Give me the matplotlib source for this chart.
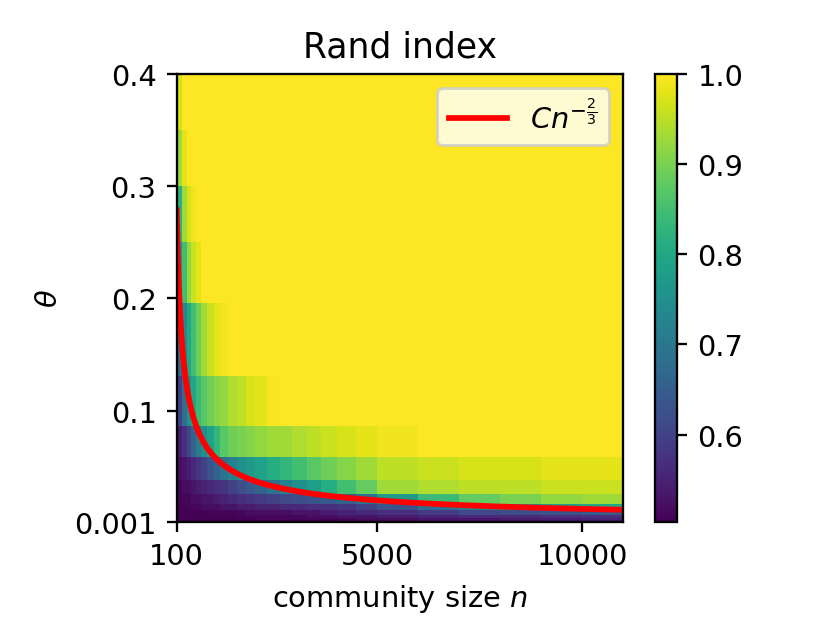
import numpy as np
import matplotlib
matplotlib.use("Agg")
import matplotlib.pyplot as plt

# community sizes n (cell edges along x)
n_edges = [100, 240, 345, 450, 565, 695, 830, 1000, 1160, 1345, 1565, 1785, 2000,
           2300, 2620, 2915, 3280, 3620, 4000, 4475, 5000, 6000, 7000, 8000, 9000,
           10000, 11000]

# theta values (cell edges along y)
theta_edges = [0.001, 0.0015, 0.0023, 0.0034, 0.0052, 0.0078, 0.0117, 0.0176, 0.026,
               0.039, 0.059, 0.087, 0.131, 0.196, 0.25, 0.3, 0.35, 0.4]

# rand index, one row per theta cell (bottom to top), one value per n cell
rand_rows = [
    [0.50, 0.50, 0.50, 0.50, 0.50, 0.50, 0.50, 0.50, 0.50, 0.50, 0.50, 0.50, 0.50, 0.50, 0.50, 0.50, 0.50, 0.50, 0.50, 0.50, 0.50, 0.51, 0.51, 0.51, 0.51, 0.51],
    [0.50, 0.50, 0.50, 0.50, 0.50, 0.50, 0.50, 0.50, 0.50, 0.50, 0.50, 0.50, 0.50, 0.50, 0.50, 0.50, 0.50, 0.50, 0.50, 0.50, 0.51, 0.51, 0.51, 0.52, 0.52, 0.52],
    [0.50, 0.50, 0.50, 0.50, 0.50, 0.50, 0.50, 0.50, 0.50, 0.50, 0.50, 0.50, 0.50, 0.50, 0.50, 0.50, 0.50, 0.50, 0.51, 0.51, 0.51, 0.52, 0.52, 0.52, 0.53, 0.53],
    [0.50, 0.50, 0.50, 0.50, 0.50, 0.50, 0.50, 0.50, 0.50, 0.50, 0.50, 0.50, 0.51, 0.51, 0.51, 0.51, 0.51, 0.51, 0.51, 0.52, 0.52, 0.53, 0.53, 0.54, 0.54, 0.55],
    [0.50, 0.50, 0.50, 0.50, 0.50, 0.50, 0.50, 0.50, 0.50, 0.50, 0.51, 0.51, 0.51, 0.51, 0.51, 0.51, 0.52, 0.52, 0.53, 0.53, 0.54, 0.55, 0.56, 0.56, 0.57, 0.57],
    [0.50, 0.50, 0.50, 0.50, 0.50, 0.50, 0.51, 0.51, 0.51, 0.51, 0.51, 0.52, 0.52, 0.52, 0.52, 0.53, 0.53, 0.54, 0.55, 0.56, 0.57, 0.59, 0.61, 0.62, 0.63, 0.64],
    [0.50, 0.50, 0.51, 0.51, 0.51, 0.52, 0.52, 0.52, 0.53, 0.53, 0.54, 0.54, 0.55, 0.55, 0.56, 0.56, 0.57, 0.57, 0.58, 0.60, 0.63, 0.68, 0.72, 0.75, 0.78, 0.80],
    [0.51, 0.51, 0.51, 0.52, 0.52, 0.53, 0.53, 0.54, 0.55, 0.56, 0.57, 0.58, 0.59, 0.60, 0.61, 0.62, 0.63, 0.64, 0.66, 0.69, 0.77, 0.84, 0.88, 0.90, 0.92, 0.93],
    [0.51, 0.52, 0.52, 0.53, 0.54, 0.55, 0.56, 0.57, 0.58, 0.60, 0.62, 0.64, 0.66, 0.69, 0.72, 0.75, 0.78, 0.81, 0.85, 0.88, 0.93, 0.94, 0.95, 0.95, 0.96, 0.96],
    [0.52, 0.53, 0.54, 0.56, 0.58, 0.60, 0.63, 0.66, 0.69, 0.72, 0.75, 0.77, 0.79, 0.81, 0.83, 0.85, 0.87, 0.89, 0.91, 0.93, 0.95, 0.96, 0.97, 0.97, 0.98, 0.98],
    [0.54, 0.57, 0.61, 0.66, 0.71, 0.75, 0.79, 0.83, 0.87, 0.89, 0.90, 0.91, 0.92, 0.93, 0.93, 0.94, 0.95, 0.96, 0.97, 0.98, 0.99, 1.00, 1.00, 1.00, 1.00, 1.00],
    [0.60, 0.68, 0.75, 0.80, 0.84, 0.87, 0.89, 0.91, 0.92, 0.94, 0.95, 0.97, 0.98, 0.995, 1.00, 1.00, 1.00, 1.00, 1.00, 1.00, 1.00, 1.00, 1.00, 1.00, 1.00, 1.00],
    [0.67, 0.74, 0.80, 0.85, 0.89, 0.93, 0.96, 0.98, 0.99, 1.00, 1.00, 1.00, 1.00, 1.00, 1.00, 1.00, 1.00, 1.00, 1.00, 1.00, 1.00, 1.00, 1.00, 1.00, 1.00, 1.00],
    [0.76, 0.85, 0.92, 0.96, 0.98, 1.00, 1.00, 1.00, 1.00, 1.00, 1.00, 1.00, 1.00, 1.00, 1.00, 1.00, 1.00, 1.00, 1.00, 1.00, 1.00, 1.00, 1.00, 1.00, 1.00, 1.00],
    [0.82, 0.93, 0.97, 0.99, 1.00, 1.00, 1.00, 1.00, 1.00, 1.00, 1.00, 1.00, 1.00, 1.00, 1.00, 1.00, 1.00, 1.00, 1.00, 1.00, 1.00, 1.00, 1.00, 1.00, 1.00, 1.00],
    [0.93, 0.98, 1.00, 1.00, 1.00, 1.00, 1.00, 1.00, 1.00, 1.00, 1.00, 1.00, 1.00, 1.00, 1.00, 1.00, 1.00, 1.00, 1.00, 1.00, 1.00, 1.00, 1.00, 1.00, 1.00, 1.00],
    [0.97, 1.00, 1.00, 1.00, 1.00, 1.00, 1.00, 1.00, 1.00, 1.00, 1.00, 1.00, 1.00, 1.00, 1.00, 1.00, 1.00, 1.00, 1.00, 1.00, 1.00, 1.00, 1.00, 1.00, 1.00, 1.00],
]

# reference curve C n^(-2/3)
C = 6.0
exponent = -2.0 / 3.0
curve_n = np.linspace(100, 11000, 400)

x_ticks = [100, 5000, 10000]
y_ticks = [0.001, 0.1, 0.2, 0.3, 0.4]
y_labels = ["0.001", "0.1", "0.2", "0.3", "0.4"]

fig = plt.figure(figsize=(4.0, 3.0024), dpi=207.5)
ax = fig.add_axes([0.2129, 0.16, 0.5381, 0.7204])

mesh = ax.pcolormesh(n_edges, theta_edges, np.array(rand_rows), cmap="viridis",
                     vmin=0.503, vmax=1.0, shading="flat")
ax.plot(curve_n, C * curve_n ** exponent, color="red", linewidth=2,
        label=r"$Cn^{-\frac{2}{3}}$")

ax.set_xlim(100, 11000)
ax.set_ylim(0.001, 0.4)
ax.set_xticks(x_ticks)
ax.set_yticks(y_ticks, y_labels)
ax.set_title("Rand index")
ax.set_xlabel("community size $n$")
ax.set_ylabel(r"$\theta$")
ax.legend(loc="upper right")

cax = fig.add_axes([0.7892, 0.16, 0.0269, 0.7204])
fig.colorbar(mesh, cax=cax)

fig.savefig("out.png", dpi=207.5)
